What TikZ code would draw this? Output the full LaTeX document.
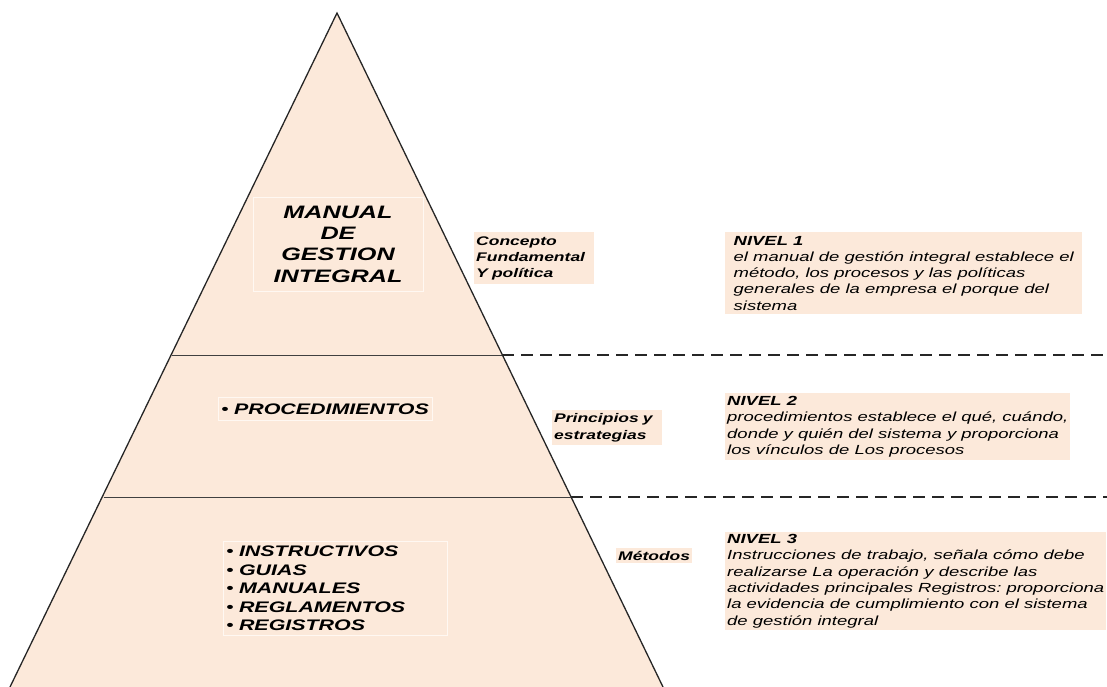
\documentclass[tikz,border=0pt]{standalone}
\usepackage{fontspec}
\setmainfont{Liberation Sans}[FakeStretch=1.4]
\definecolor{peach}{RGB}{252,233,218}
\definecolor{paleline}{RGB}{255,248,242}
\tikzset{
  lvlbox/.style={fill=peach, anchor=north west, inner xsep=2pt, inner ysep=0pt, align=left,
    font=\fontsize{13.2}{16.3}\selectfont\itshape},
  tagbox/.style={fill=peach, anchor=north west, inner xsep=2pt, inner ysep=0pt, align=left,
    font=\fontsize{12.5}{16}\selectfont\bfseries\itshape},
  itembox/.style={draw=paleline, line width=0.8pt, fill=peach, anchor=north west, inner xsep=3pt,
    inner ysep=0pt, align=left},
  levelline/.style={draw=black!75, line width=0.8pt},
  sepline/.style={draw=black!85, line width=2pt, dash pattern=on 12pt off 7pt}
}
\newcommand{\blt}{{\mdseries\upshape\textbullet}\ }
\begin{document}
\frenchspacing
\begin{tikzpicture}[x=1pt,y=-1pt]
  \useasboundingbox (0,0) rectangle (1107,687);
  % pyramid
  \coordinate (apex) at (337,13);
  \coordinate (baseL) at (10,687);
  \coordinate (baseR) at (663,687);
  \fill[peach] (baseL) -- (apex) -- (baseR) -- cycle;
  \draw[black!85, line width=1.3pt] (baseL) -- (apex) -- (baseR);
  % level borders
  \coordinate (cut1L) at (172.1,355);
  \coordinate (cut1R) at (502.4,355);
  \coordinate (cut2L) at (103.6,497);
  \coordinate (cut2R) at (571.1,497);
  \coordinate (end1) at (1107,355);
  \coordinate (end2) at (1107,497);
  \draw[levelline] (cut1L) -- (cut1R);
  \draw[levelline] (cut2L) -- (cut2R);
  \draw[sepline] (cut1R) -- (end1);
  \draw[sepline] (cut2R) -- (end2);
  % level 1
  \node[itembox, anchor=center, minimum width=170pt, minimum height=94pt, align=center,
    font=\fontsize{18}{21.3}\selectfont\bfseries\itshape] (manual) at (338,244)
    {MANUAL\\DE\\GESTION\\INTEGRAL};
  \node[tagbox, text width=116pt, minimum height=52pt] (concepto) at (474,232)
    {Concepto\\Fundamental\\Y política};
  \node[lvlbox, minimum width=357pt, minimum height=82pt] (nivel1) at (725,232)
    {\textbf{NIVEL 1}\\el manual de gestión integral establece el\\método, los procesos y las políticas\\generales de la empresa el porque del\\sistema};
  % level 2
  \node[itembox, text width=208pt, minimum height=23pt,
    font=\fontsize{15.3}{17}\selectfont\bfseries\itshape] (proc) at (218,397)
    {\blt PROCEDIMIENTOS};
  \node[tagbox, text width=106pt, minimum height=35pt, font=\fontsize{12.5}{17}\selectfont\bfseries\itshape]
    (principios) at (552,410) {Principios y\\estrategias};
  \node[lvlbox, minimum width=341pt, minimum height=67pt] (nivel2) at (725,393)
    {\textbf{NIVEL 2}\\procedimientos establece el qué, cuándo,\\donde y quién del sistema y proporciona\\los vínculos de Los procesos};
  % level 3
  \node[itembox, text width=218pt, minimum height=94pt,
    font=\fontsize{15.3}{18.5}\selectfont\bfseries\itshape] (docs) at (223,541)
    {\blt INSTRUCTIVOS\\\blt GUIAS\\\blt MANUALES\\\blt REGLAMENTOS\\\blt REGISTROS};
  \node[tagbox, text width=72pt, minimum height=15pt] (metodos) at (616,548) {Métodos};
  \node[lvlbox, minimum width=373pt, minimum height=98pt] (nivel3) at (725,532)
    {\textbf{NIVEL 3}\\Instrucciones de trabajo, señala cómo debe\\realizarse La operación y describe las\\actividades principales Registros: proporciona\\la evidencia de cumplimiento con el sistema\\de gestión integral};
\end{tikzpicture}
\end{document}
